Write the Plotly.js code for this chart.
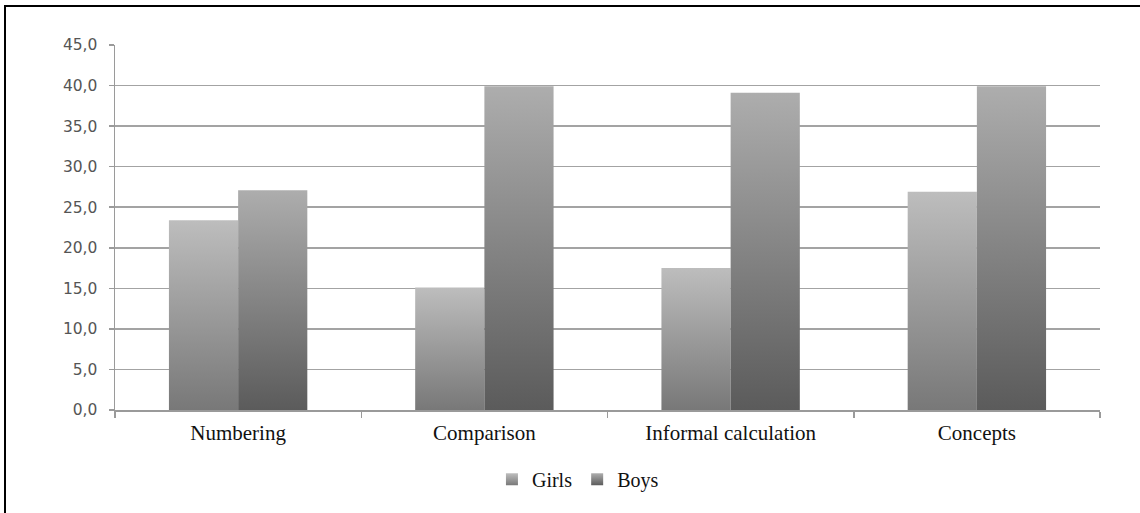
<!DOCTYPE html>
<html>
<head>
<meta charset="utf-8">
<script src="https://cdn.plot.ly/plotly-3.0.1.min.js"></script>
<style>
  html, body { margin: 0; padding: 0; background: #fff; overflow: hidden; }
  #chart { width: 1140px; height: 513px; position: absolute; left: 0; top: 0; }
  #frame { position: absolute; left: 4px; top: 5px; width: 1200px; height: 600px;
           border-left: 2px solid #000; border-top: 2px solid #000; pointer-events: none; }
</style>
</head>
<body>
<div id="chart"></div>
<div id="frame"></div>
<script>
const categories = ["Numbering", "Comparison", "Informal calculation", "Concepts"];
const girls = [23.4, 15.1, 17.5, 26.9];
const boys = [27.1, 39.9, 39.1, 39.9];
const seriesNames = ["Girls", "Boys"];
const yTicks = [0, 5, 10, 15, 20, 25, 30, 35, 40, 45];

const serif = "'Liberation Serif', 'Times New Roman', serif";
const sans = "'DejaVu Sans', Verdana, sans-serif";

const traces = [
  { type: "bar", name: seriesNames[0], x: categories, y: girls,
    marker: { color: "#9a9a9a", line: { width: 0 } } },
  { type: "bar", name: seriesNames[1], x: categories, y: boys,
    marker: { color: "#808080", line: { width: 0 } } }
];

const layout = {
  width: 1140, height: 513,
  margin: { l: 115, r: 40, t: 45, b: 102.5 },
  paper_bgcolor: "#fff", plot_bgcolor: "#fff",
  barmode: "group", bargap: 0.438, bargroupgap: 0,
  showlegend: true,
  legend: { orientation: "h", x: 0.47, xanchor: "center", y: -0.19, yanchor: "middle",
            font: { family: serif, size: 20, color: "#111" }, itemwidth: 30, traceorder: "normal" },
  xaxis: {
    type: "category", tickson: "boundaries", ticks: "outside", ticklen: 6, tickcolor: "#9a9a9a",
    tickwidth: 1.5, showline: true, linecolor: "#9a9a9a", linewidth: 1.5,
    showgrid: false, tickfont: { family: serif, size: 21, color: "#111" }, ticklabelstandoff: 3
  },
  yaxis: {
    range: [0, 45], tickvals: yTicks, tickformat: ".1f",
    ticks: "outside", ticklen: 5, tickcolor: "#9a9a9a", tickwidth: 1.5,
    showline: true, linecolor: "#9a9a9a", linewidth: 1.5,
    showgrid: true, gridcolor: "#a3a3a3", gridwidth: 1.5, zeroline: false,
    tickfont: { family: sans, size: 15.5, color: "#555555" }, ticklabelstandoff: 8
  },
  separators: ", "
};

Plotly.newPlot("chart", traces, layout, { staticPlot: true, displayModeBar: false }).then(function (gd) {
  const svg = gd.querySelector("svg.main-svg");
  const ns = "http://www.w3.org/2000/svg";
  let defs = svg.querySelector("defs");
  if (!defs) { defs = document.createElementNS(ns, "defs"); svg.insertBefore(defs, svg.firstChild); }
  function grad(id, top, bottom) {
    const g = document.createElementNS(ns, "linearGradient");
    g.setAttribute("id", id);
    g.setAttribute("x1", "0"); g.setAttribute("y1", "0");
    g.setAttribute("x2", "0"); g.setAttribute("y2", "1");
    [[0, top], [1, bottom]].forEach(function (s) {
      const st = document.createElementNS(ns, "stop");
      st.setAttribute("offset", s[0]);
      st.setAttribute("stop-color", s[1]);
      g.appendChild(st);
    });
    defs.appendChild(g);
  }
  grad("gradGirls", "#bdbdbd", "#787878");
  grad("gradBoys", "#adadad", "#5b5b5b");
  const ids = ["gradGirls", "gradBoys"];
  gd.querySelectorAll(".barlayer .trace").forEach(function (tr, i) {
    tr.querySelectorAll("path").forEach(function (p) { p.style.fill = "url(#" + ids[i] + ")"; });
  });
  gd.querySelectorAll(".legend .traces").forEach(function (tr, i) {
    tr.querySelectorAll(".legendpoints path").forEach(function (p) { p.style.fill = "url(#" + ids[i] + ")"; });
  });
});
</script>
</body>
</html>
